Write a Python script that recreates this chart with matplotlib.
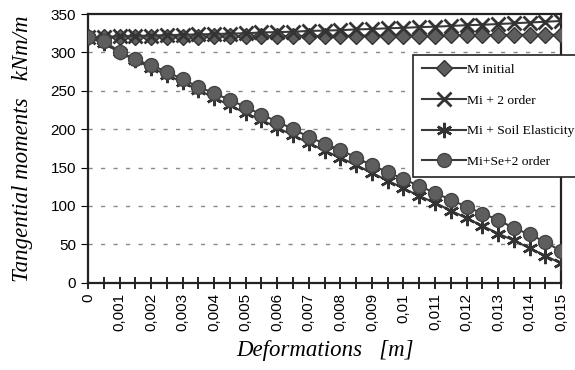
import numpy as np
import matplotlib.pyplot as plt

# deformations (category axis, every 0.0005 m)
deform = [0, 0.0005, 0.001, 0.0015, 0.002, 0.0025, 0.003, 0.0035, 0.004, 0.0045,
          0.005, 0.0055, 0.006, 0.0065, 0.007, 0.0075, 0.008, 0.0085, 0.009, 0.0095,
          0.01, 0.0105, 0.011, 0.0115, 0.012, 0.0125, 0.013, 0.0135, 0.014, 0.0145,
          0.015]
tick_labels = ["0", "", "0,001", "", "0,002", "", "0,003", "", "0,004", "", "0,005", "",
               "0,006", "", "0,007", "", "0,008", "", "0,009", "", "0,01", "", "0,011", "",
               "0,012", "", "0,013", "", "0,014", "", "0,015"]

m_initial = [320, 320, 320, 320, 320, 320.5, 320.5, 320.5, 321, 321, 321, 321, 321, 321.5,
             321.5, 321.5, 321.5, 322, 322, 322, 322, 322, 322, 322.5, 322.5, 322.5, 322.5,
             323, 323, 323, 323]
mi_2order = [320, 320.5, 321, 321.5, 322, 322.5, 323, 323.5, 324, 324.5, 325, 326, 326.5,
             327, 328, 328.5, 329, 330, 330.5, 331.5, 332, 333, 333.5, 334.5, 335.5, 336,
             337, 338, 339, 340, 341]
mi_soil = [320, 312, 300, 290, 280, 271, 261, 251, 241, 231, 221, 212, 202, 192, 182, 172,
           163, 153, 143, 133, 123, 113, 104, 94, 84, 74, 64, 55, 45, 35, 25]
mi_se_2 = [320, 315, 301, 291, 283, 275, 265, 255, 247, 238, 229, 219, 210, 200, 190, 181,
           173, 163, 153, 144, 135, 126, 117, 108, 99, 90, 82, 71, 63, 53, 41]

plt.rcParams['font.family'] = ['Liberation Sans', 'DejaVu Sans']

fig = plt.figure(figsize=(5.75, 3.7), dpi=100)
ax = fig.add_axes([0.153, 0.236, 0.823, 0.726])

line_col = "#3a3a3a"
fill_col = "#5e5e5e"
ax.plot(deform, m_initial, color=line_col, lw=1.5, marker="D", ms=8,
        mfc=fill_col, mec="#333333", label="M initial", zorder=3)
ax.plot(deform, mi_2order, color=line_col, lw=1.5, marker="x", ms=10, mew=2,
        mec="#333333", label="Mi + 2 order", zorder=3)
ax.plot(deform, mi_soil, color=line_col, lw=1.5, marker=(6, 2, 0), ms=11, mew=1.8,
        mec="#333333", label="Mi + Soil Elasticity", zorder=3)
ax.plot(deform, mi_se_2, color=line_col, lw=1.5, marker="o", ms=10,
        mfc=fill_col, mec="#444444", label="Mi+Se+2 order", zorder=4)

ax.set_xlim(0, 0.015)
ax.set_ylim(0, 350)
ax.set_xticks(deform)
ax.set_xticklabels(tick_labels, rotation=90, fontsize=11)
ax.set_yticks(np.arange(0, 351, 50))
ax.tick_params(axis="y", labelsize=11, length=5)
ax.tick_params(axis="x", direction="inout", length=9, width=1.2, pad=3)
for sp in ax.spines.values():
    sp.set_linewidth(1.6)
    sp.set_color("#222222")

for g in range(50, 301, 50):
    ax.axhline(g, color="#8a8a8a", lw=1, ls=(0, (3, 6)), zorder=1)

ax.set_xlabel("Deformations   [m]", family="Liberation Serif", style="italic",
              fontsize=16.5, labelpad=6)
ax.set_ylabel("Tangential moments   kNm/m", family="Liberation Serif", style="italic",
              fontsize=16.5, labelpad=13)

leg = fig.legend(loc="upper left", bbox_to_anchor=(413 / 575, 1 - 55 / 370),
                 prop={"family": "Liberation Serif", "size": 9.7},
                 handlelength=3.3, handletextpad=0.05, labelspacing=1.35,
                 borderpad=0.65, borderaxespad=0, fancybox=False, framealpha=1)
leg.get_frame().set_edgecolor("#222222")
leg.get_frame().set_linewidth(1.2)

fig.savefig("out.png", dpi=100)
